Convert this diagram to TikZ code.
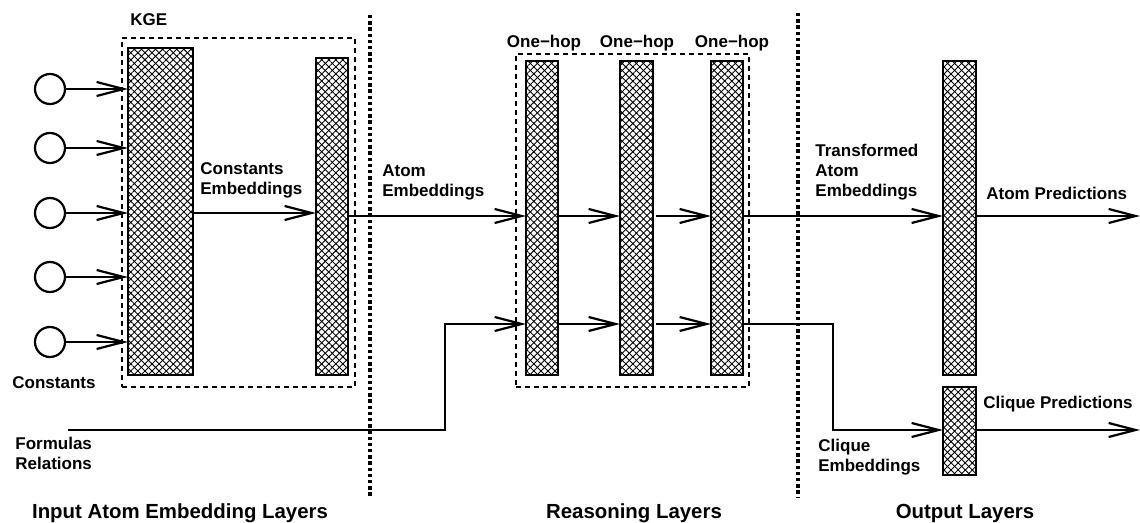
\documentclass[tikz,border=0pt]{standalone}
\usepackage{fontspec}
\setmainfont{Liberation Sans}
\usetikzlibrary{arrows.meta,patterns.meta}
\begin{document}
\begin{tikzpicture}[x=0.5pt,y=-0.5pt,
  every node/.style={font=\bfseries\fontsize{8.5}{10}\selectfont},
  hbox/.style={draw,line width=1pt,inner sep=0pt,outer sep=0pt,
    pattern={Lines[angle=45,distance=2.5pt,line width=0.45pt]},
    postaction={pattern={Lines[angle=-45,distance=2.5pt,line width=0.45pt]}}},
  cst/.style={draw,circle,line width=1.1pt,minimum size=15pt,inner sep=0pt},
  arr/.style={line width=1pt,-{Straight Barb[length=13.5pt,width=7pt,line width=1.1pt]}},
  grp/.style={draw,line width=0.8pt,dash pattern=on 2.5pt off 2pt},
  sep/.style={line width=2pt,dash pattern=on 1.7pt off 1.4pt},
  lbl/.style={align=left,anchor=west,inner sep=0pt},
  title/.style={font=\bfseries\fontsize{10.2}{12}\selectfont,inner sep=0pt}]
\useasboundingbox (0,0) rectangle (1140,523);
% group frames
\node[grp,inner sep=0pt,minimum width=116.5pt,minimum height=174.5pt] (kge) at (238.5,212.5) {};
\node[grp,inner sep=0pt,minimum width=116.5pt,minimum height=166.5pt] (reas) at (632.5,220.5) {};
% separators
\coordinate (s1t) at (370,15); \coordinate (s1b) at (370,498);
\coordinate (s2t) at (798,13); \coordinate (s2b) at (798,497);
\draw[sep] (s1t) -- (s1b);
\draw[sep] (s2t) -- (s2b);
% layers
\node[hbox,minimum width=32.5pt,minimum height=163.5pt] (b1) at (160.5,211.5) {};
\node[hbox,minimum width=16pt,minimum height=158.5pt] (b2) at (332,216.5) {};
\node[hbox,minimum width=16pt,minimum height=157pt] (b3) at (542,218) {};
\node[hbox,minimum width=16.5pt,minimum height=157pt] (b4) at (636.5,218) {};
\node[hbox,minimum width=16pt,minimum height=157pt] (b5) at (727,218) {};
\node[hbox,minimum width=16.5pt,minimum height=157pt] (o1) at (959.5,218) {};
\node[hbox,minimum width=16.5pt,minimum height=44pt] (o2) at (959.5,431) {};
% constants
\node[cst] (c1) at (50,89) {};
\node[cst] (c2) at (50,148) {};
\node[cst] (c3) at (50,213) {};
\node[cst] (c4) at (50,277) {};
\node[cst] (c5) at (50,342) {};
\foreach \c in {c1,c2,c3,c4,c5} \draw[arr] (\c) -- (\c -| b1.west);
% row coordinates
\coordinate (rA) at (0,216);
\coordinate (rB) at (0,324);
\coordinate (rC) at (0,430);
\coordinate (fin) at (68,430);
\coordinate (fup) at (445,430);
\coordinate (cdn) at (833,324);
\coordinate (outA) at (1140,216);
\coordinate (outC) at (1140,430);
% connectors
\draw[arr] (b1.east |- 0,213) -- (b2.west |- 0,213);
\draw[arr] (b2.east |- rA) -- (b3.west |- rA);
\draw[arr] (b3.east |- rA) -- (b4.west |- rA);
\draw[arr] ([xshift=1.5pt]b4.east |- rA) -- (b5.west |- rA);
\draw[arr] (b5.east |- rA) -- (o1.west |- rA);
\draw[arr] (o1.east |- rA) -- (outA);
\draw[arr] (fin) -- (fup) -- (fup |- rB) -- (b3.west |- rB);
\draw[arr] (b3.east |- rB) -- (b4.west |- rB);
\draw[arr] ([xshift=1.5pt]b4.east |- rB) -- (b5.west |- rB);
\draw[arr] (b5.east |- rB) -- (cdn) -- (cdn |- rC) -- (o2.west |- rC);
\draw[arr] (o2.east |- rC) -- (outC);
% labels
\node[lbl] (tkge) at (130,20) {KGE};
\node[lbl] (tce) at (200,180) {Constants\\Embeddings};
\node[lbl] (tae) at (382,182) {Atom\\Embeddings};
\node[lbl] (ttae) at (815,172) {Transformed\\Atom\\Embeddings};
\node[lbl] (tap) at (986,193) {Atom Predictions};
\node[lbl] (tcp) at (983,404) {Clique Predictions};
\node[lbl] (tcle) at (818,457) {Clique\\Embeddings};
\node[lbl] (tcons) at (12,383) {Constants};
\node[lbl] (tfr) at (15,453.5) {Formulas\\Relations};
\node[inner sep=0pt] (h1) at (544,43) {One−hop};
\node[inner sep=0pt] (h2) at (637,43) {One−hop};
\node[inner sep=0pt] (h3) at (732,43) {One−hop};
\node[title] (t1) at (180,513) {Input Atom Embedding Layers};
\node[title] (t2) at (634,513) {Reasoning Layers};
\node[title] (t3) at (965,513) {Output Layers};
\end{tikzpicture}
\end{document}
